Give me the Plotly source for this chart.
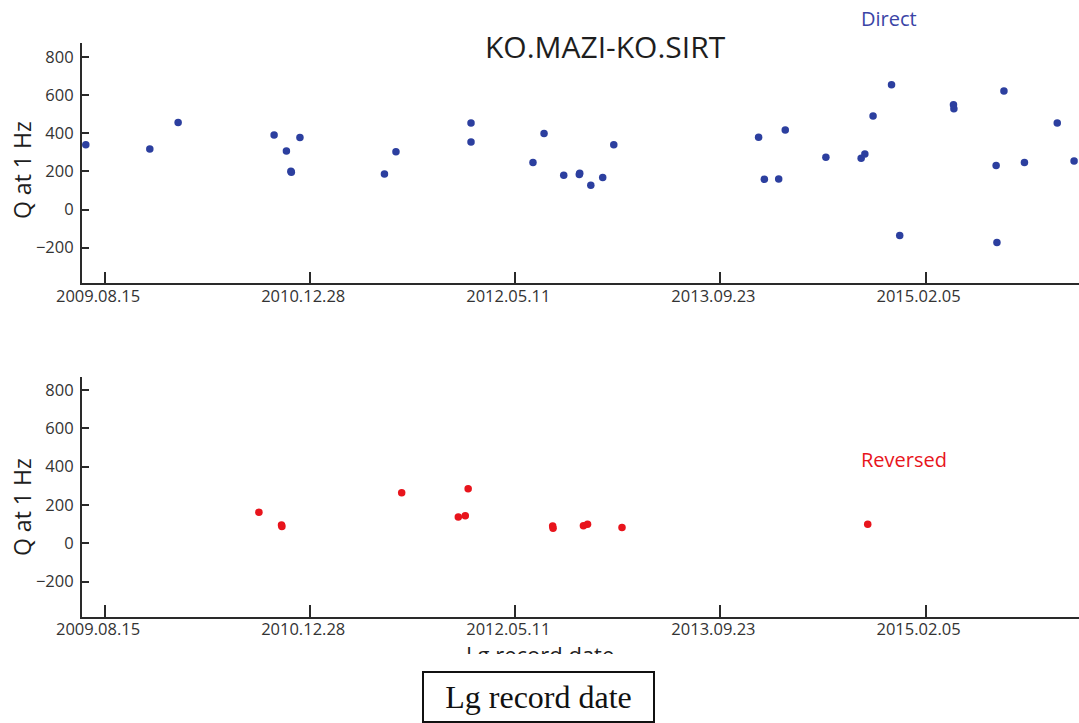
import plotly.graph_objects as go

# ---------------- data ----------------
direct_dates = [
    "2009-06-29", "2009-12-02", "2010-02-09", "2010-10-01", "2010-10-31",
    "2010-11-11", "2010-11-12", "2010-12-03", "2011-06-27", "2011-07-25",
    "2012-01-24", "2012-01-24", "2012-06-23", "2012-07-20", "2012-09-06",
    "2012-10-14", "2012-10-15", "2012-11-11", "2012-12-10", "2013-01-06",
    "2013-12-25", "2014-01-08", "2014-02-12", "2014-02-28", "2014-06-07",
    "2014-09-01", "2014-09-10", "2014-09-30", "2014-11-14", "2014-12-04",
    "2015-04-14", "2015-04-15", "2015-07-27", "2015-07-29", "2015-08-15",
    "2015-10-04", "2015-12-23", "2016-02-02",
]
direct_q = [
    341, 318, 457, 392, 308,
    201, 196, 378, 187, 304,
    455, 355, 247, 399, 180,
    184, 190, 128, 168, 341,
    380, 159, 161, 418, 275,
    269, 292, 491, 656, -137,
    551, 530, 231, -173, 623,
    247, 455, 255,
]

reversed_dates = [
    "2010-08-25", "2010-10-19", "2010-10-20", "2011-08-08", "2011-12-24",
    "2012-01-10", "2012-01-17", "2012-08-10", "2012-08-11", "2012-10-24",
    "2012-11-03", "2013-01-26", "2014-09-17",
]
reversed_q = [
    162, 96, 88, 264, 137,
    144, 285, 90, 78, 92,
    99, 82, 99,
]

tick_dates = ["2009-08-15", "2010-12-28", "2012-05-11", "2013-09-23", "2015-02-05"]
tick_labels = ["2009.08.15", "2010.12.28", "2012.05.11", "2013.09.23", "2015.02.05"]
y_ticks = [-200, 0, 200, 400, 600, 800]

title_text = "KO.MAZI-KO.SIRT"
y_title = "Q at 1 Hz"
x_title = "Lg record date"

# ---------------- styling ----------------
W, H = 1079, 723
BLUE = "#2c3f9f"
RED = "#e8141c"
AX = "#2a2a2a"
FONT = "Open Sans"


def px_x(p):
    return p / W


def px_y(p):
    return 1 - p / H


fig = go.Figure()
fig.add_trace(go.Scatter(x=direct_dates, y=direct_q, mode="markers",
                         marker=dict(color=BLUE, size=7.5), xaxis="x", yaxis="y",
                         showlegend=False, hoverinfo="skip", cliponaxis=False))
fig.add_trace(go.Scatter(x=reversed_dates, y=reversed_q, mode="markers",
                         marker=dict(color=RED, size=7.5), xaxis="x2", yaxis="y2",
                         showlegend=False, hoverinfo="skip"))

xcommon = dict(
    type="date", range=["2009-06-19", "2016-02-14"],
    domain=[px_x(81.7), 1.0], automargin=False,
    tickmode="array", tickvals=tick_dates, ticktext=tick_labels,
    ticks="inside", ticklen=12, tickwidth=1.5, tickcolor=AX,
    showline=True, linecolor=AX, linewidth=1.5,
    showgrid=False, zeroline=False,
    ticklabelshift=-7, ticklabelstandoff=-3,
    tickfont=dict(family=FONT, size=16.5, color="#333333"),
)
ycommon = dict(
    tickmode="array", tickvals=y_ticks, automargin=False,
    ticks="inside", ticklen=8, tickwidth=1.5, tickcolor=AX,
    showline=True, linecolor=AX, linewidth=1.5,
    showgrid=False, zeroline=False, ticklabelstandoff=3,
    tickfont=dict(family=FONT, size=16.5, color="#333333"),
)

fig.update_layout(
    width=W, height=H,
    margin=dict(l=0, r=0, t=0, b=0, autoexpand=False),
    paper_bgcolor="white", plot_bgcolor="white",
    xaxis=dict(**xcommon, anchor="y"),
    yaxis=dict(**ycommon, range=[-388, 877], domain=[px_y(283.3), px_y(42.7)], anchor="x"),
    xaxis2=dict(**xcommon, anchor="y2"),
    yaxis2=dict(**ycommon, range=[-383, 869], domain=[px_y(616.7), px_y(376.7)], anchor="x2"),
)

ann = []
ann.append(dict(text=title_text, x=px_x(605), y=px_y(46), xref="paper", yref="paper",
                showarrow=False, xanchor="center", yanchor="middle",
                font=dict(family=FONT, size=30, color="#1e1e1e")))
ann.append(dict(text="Direct", x=px_x(889), y=px_y(18), xref="paper", yref="paper",
                showarrow=False, xanchor="center", yanchor="middle",
                font=dict(family=FONT, size=20, color="#3a44a6")))
ann.append(dict(text="Reversed", x=px_x(903.5), y=px_y(460), xref="paper", yref="paper",
                showarrow=False, xanchor="center", yanchor="middle",
                font=dict(family=FONT, size=20, color=RED)))
for yc in (170, 507):
    ann.append(dict(text=y_title, x=px_x(22), y=px_y(yc), xref="paper", yref="paper",
                    showarrow=False, xanchor="center", yanchor="middle", textangle=-90,
                    font=dict(family=FONT, size=23, color="#1e1e1e")))
# clipped axis title (only top part visible)
ann.append(dict(text=x_title, x=px_x(540), y=px_y(637), xref="paper", yref="paper",
                showarrow=False, xanchor="center", yanchor="top",
                font=dict(family=FONT, size=22, color="#1e1e1e")))
# white cover hiding the lower part of that title
ann.append(dict(text=" ", x=px_x(540), y=px_y(654), xref="paper", yref="paper",
                showarrow=False, xanchor="center", yanchor="top",
                width=200, height=15, bgcolor="white", borderpad=0, borderwidth=0,
                font=dict(size=10)))
# boxed serif label
ann.append(dict(text=x_title, x=px_x(538.5), y=px_y(670.5), xref="paper", yref="paper",
                showarrow=False, xanchor="center", yanchor="top",
                width=229, height=48, borderpad=0, borderwidth=2, bordercolor="#111111",
                bgcolor="white", valign="middle",
                font=dict(family="Liberation Serif", size=32, color="#111111")))
fig.update_layout(annotations=ann)

fig.write_html("out.html")
